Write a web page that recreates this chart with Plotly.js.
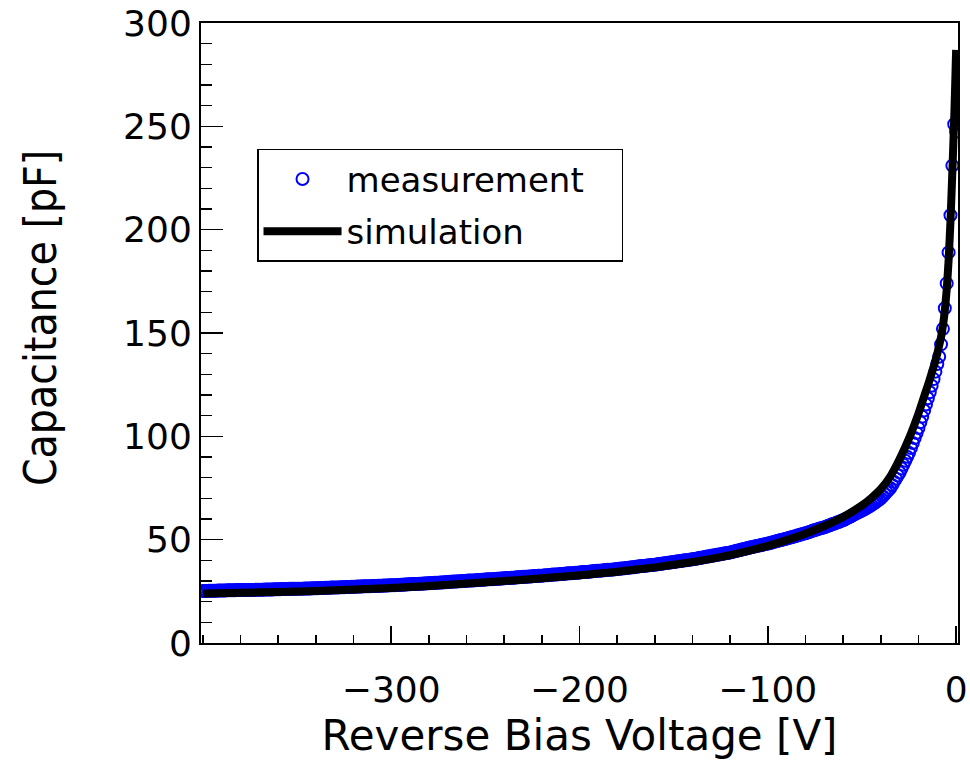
<!DOCTYPE html>
<html><head><meta charset="utf-8">
<script src="https://cdn.plot.ly/plotly-3.0.1.min.js"></script>
<style>html,body{margin:0;padding:0;background:#fff}#chart{width:970px;height:760px}</style>
</head><body><div id="chart"></div>
<script>
// Measurement: reverse bias voltage [V] and capacitance [pF], 1 V steps
const measV = [
-400,-399,-398,-397,-396,-395,-394,-393,-392,-391,
-390,-389,-388,-387,-386,-385,-384,-383,-382,-381,
-380,-379,-378,-377,-376,-375,-374,-373,-372,-371,
-370,-369,-368,-367,-366,-365,-364,-363,-362,-361,
-360,-359,-358,-357,-356,-355,-354,-353,-352,-351,
-350,-349,-348,-347,-346,-345,-344,-343,-342,-341,
-340,-339,-338,-337,-336,-335,-334,-333,-332,-331,
-330,-329,-328,-327,-326,-325,-324,-323,-322,-321,
-320,-319,-318,-317,-316,-315,-314,-313,-312,-311,
-310,-309,-308,-307,-306,-305,-304,-303,-302,-301,
-300,-299,-298,-297,-296,-295,-294,-293,-292,-291,
-290,-289,-288,-287,-286,-285,-284,-283,-282,-281,
-280,-279,-278,-277,-276,-275,-274,-273,-272,-271,
-270,-269,-268,-267,-266,-265,-264,-263,-262,-261,
-260,-259,-258,-257,-256,-255,-254,-253,-252,-251,
-250,-249,-248,-247,-246,-245,-244,-243,-242,-241,
-240,-239,-238,-237,-236,-235,-234,-233,-232,-231,
-230,-229,-228,-227,-226,-225,-224,-223,-222,-221,
-220,-219,-218,-217,-216,-215,-214,-213,-212,-211,
-210,-209,-208,-207,-206,-205,-204,-203,-202,-201,
-200,-199,-198,-197,-196,-195,-194,-193,-192,-191,
-190,-189,-188,-187,-186,-185,-184,-183,-182,-181,
-180,-179,-178,-177,-176,-175,-174,-173,-172,-171,
-170,-169,-168,-167,-166,-165,-164,-163,-162,-161,
-160,-159,-158,-157,-156,-155,-154,-153,-152,-151,
-150,-149,-148,-147,-146,-145,-144,-143,-142,-141,
-140,-139,-138,-137,-136,-135,-134,-133,-132,-131,
-130,-129,-128,-127,-126,-125,-124,-123,-122,-121,
-120,-119,-118,-117,-116,-115,-114,-113,-112,-111,
-110,-109,-108,-107,-106,-105,-104,-103,-102,-101,
-100,-99,-98,-97,-96,-95,-94,-93,-92,-91,
-90,-89,-88,-87,-86,-85,-84,-83,-82,-81,
-80,-79,-78,-77,-76,-75,-74,-73,-72,-71,
-70,-69,-68,-67,-66,-65,-64,-63,-62,-61,
-60,-59,-58,-57,-56,-55,-54,-53,-52,-51,
-50,-49,-48,-47,-46,-45,-44,-43,-42,-41,
-40,-39,-38,-37,-36,-35,-34,-33,-32,-31,
-30,-29,-28,-27,-26,-25,-24,-23,-22,-21,
-20,-19,-18,-17,-16,-15,-14,-13,-12,-11,
-10,-9,-8,-7,-6,-5,-4,-3,-2,-1,0
];
const measC = [
25.2,25.2,25.2,25.3,25.3,25.3,25.3,25.3,25.4,25.4,
25.4,25.4,25.4,25.5,25.5,25.5,25.5,25.5,25.6,25.6,
25.6,25.6,25.6,25.7,25.7,25.7,25.7,25.7,25.8,25.8,
25.8,25.8,25.8,25.9,25.9,25.9,25.9,25.9,26.0,26.0,
26.0,26.0,26.1,26.1,26.1,26.1,26.2,26.2,26.2,26.2,
26.3,26.3,26.3,26.3,26.4,26.4,26.4,26.4,26.5,26.5,
26.5,26.5,26.6,26.6,26.6,26.7,26.7,26.7,26.8,26.8,
26.9,26.9,26.9,27.0,27.0,27.0,27.1,27.1,27.1,27.2,
27.2,27.2,27.3,27.3,27.3,27.4,27.4,27.4,27.5,27.5,
27.6,27.6,27.6,27.7,27.7,27.7,27.8,27.8,27.8,27.9,
27.9,28.0,28.0,28.1,28.1,28.2,28.2,28.3,28.3,28.4,
28.4,28.5,28.5,28.6,28.6,28.7,28.7,28.8,28.8,28.9,
28.9,29.0,29.0,29.1,29.1,29.2,29.3,29.3,29.4,29.4,
29.5,29.6,29.6,29.7,29.7,29.8,29.9,29.9,30.0,30.0,
30.1,30.2,30.2,30.3,30.3,30.4,30.5,30.5,30.6,30.6,
30.7,30.8,30.8,30.9,30.9,31.0,31.1,31.1,31.2,31.2,
31.3,31.4,31.4,31.5,31.6,31.6,31.7,31.8,31.8,31.9,
32.0,32.0,32.1,32.2,32.2,32.3,32.4,32.4,32.5,32.5,
32.6,32.7,32.8,32.8,32.9,33.0,33.1,33.1,33.2,33.3,
33.4,33.4,33.5,33.6,33.7,33.7,33.8,33.9,34.0,34.0,
34.1,34.2,34.3,34.4,34.4,34.5,34.6,34.7,34.8,34.9,
35.0,35.0,35.1,35.2,35.3,35.4,35.5,35.5,35.6,35.7,
35.8,35.9,36.0,36.1,36.2,36.3,36.4,36.5,36.6,36.7,
36.9,37.0,37.1,37.2,37.3,37.4,37.5,37.6,37.7,37.8,
37.9,38.0,38.2,38.3,38.4,38.6,38.7,38.8,38.9,39.1,
39.2,39.3,39.5,39.6,39.7,39.9,40.0,40.1,40.2,40.4,
40.5,40.7,40.8,41.0,41.2,41.3,41.5,41.7,41.8,42.0,
42.2,42.3,42.5,42.7,42.8,43.0,43.2,43.3,43.5,43.6,
43.8,44.0,44.3,44.5,44.7,44.9,45.2,45.4,45.6,45.8,
46.1,46.3,46.5,46.7,46.9,47.1,47.3,47.5,47.7,47.9,
48.1,48.3,48.6,48.8,49.1,49.3,49.6,49.8,50.0,50.3,
50.5,50.8,51.0,51.3,51.5,51.8,52.1,52.3,52.6,52.9,
53.1,53.4,53.7,54.0,54.4,54.6,54.9,55.2,55.5,55.7,
56.0,56.3,56.7,57.0,57.4,57.7,58.0,58.4,58.7,59.1,
59.4,59.9,60.3,60.8,61.2,61.8,62.3,62.7,63.2,63.6,
64.1,64.6,65.1,65.7,66.2,66.7,67.4,68.0,68.7,69.3,
70.0,71.0,72.0,73.0,74.0,75.0,76.5,78.0,79.5,81.0,
82.5,84.4,86.3,88.2,90.1,92.0,94.4,96.8,99.2,101.6,
104.0,106.8,109.5,112.5,115.4,118.4,121.3,124.5,127.7,131.3,
135.0,138.5,144.5,152.0,162.0,174.0,189.0,207.0,231.0,251.0,247.5
];
// Simulation
const simV = [-400,-380,-360,-340,-320,-300,-280,-260,-240,-220,-200,-180,-160,-140,-120,-100,
  -90,-80,-70,-60,-50,-45,-40,-35,-30,-25,-20,-18,-16,-14,-12,-10,-9,-8,-7,-6,-5,-4,-3,-2,-1,-0.5,0];
const simC = [23.9,24.3,24.7,25.2,25.9,26.6,27.6,28.8,30.0,31.3,32.8,34.5,36.6,39.2,42.5,47.0,
  49.8,52.9,56.6,61.0,66.6,70.2,74.5,80.5,89.0,99.0,111.0,116.5,122.0,127.5,133.5,140.0,144.0,148.0,153.5,161.0,171.0,185.0,204.0,228.0,254.0,270.0,287.0];

const seriesNames = ['measurement', 'simulation'];
const xTickVals = [-300, -200, -100, 0];
const xTitle = 'Reverse Bias Voltage [V]';
const yTitle = 'Capacitance [pF]';

const traces = [
  {x: measV, y: measC, type: 'scatter', mode: 'markers', name: seriesNames[0] + '\u00a0\u00a0\u00a0',
   marker: {symbol: 'circle-open', size: 12, color: '#0000ff', line: {color: '#0000ff', width: 2}},
   legendgroup: 'a'},
  {x: simV, y: simC, type: 'scatter', mode: 'lines', name: seriesNames[1],
   line: {color: '#000000', width: 8, shape: 'spline', smoothing: 0.5},
   legendgroup: 'b'}
];

const tickFont = {family: 'DejaVu Sans', size: 36, color: '#000'};
const layout = {
  width: 970, height: 760,
  margin: {l: 201, r: 12, t: 23, b: 117},
  paper_bgcolor: '#fff', plot_bgcolor: '#fff',
  showlegend: true,
  legend: {x: 0.074, y: 0.797, xanchor: 'left', yanchor: 'top',
    bgcolor: '#fff', bordercolor: '#000', borderwidth: 1.5,
    font: {family: 'DejaVu Sans', size: 34, color: '#000'},
    itemwidth: 78, tracegroupgap: 5, traceorder: 'grouped'},
  xaxis: {
    range: [-401, 1], tickmode: 'array', tickvals: xTickVals,
    ticks: 'inside', ticklen: 17, tickwidth: 1.5, tickcolor: '#000',
    showline: true, linecolor: '#000', linewidth: 2, mirror: true,
    showgrid: false, zeroline: false, tickfont: tickFont, ticklabelstandoff: 14,
    minor: {tickmode: 'linear', tick0: 0, dtick: 20, ticks: 'inside', ticklen: 8, tickwidth: 1.5, tickcolor: '#000', showgrid: false},
    title: {text: xTitle, font: {family: 'DejaVu Sans', size: 42, color: '#000'}, standoff: 24}
  },
  yaxis: {
    range: [0, 300], tickmode: 'linear', tick0: 0, dtick: 50,
    ticks: 'inside', ticklen: 22, tickwidth: 1.5, tickcolor: '#000',
    showline: true, linecolor: '#000', linewidth: 2, mirror: true,
    showgrid: false, zeroline: false, tickfont: tickFont, ticklabelstandoff: 0,
    minor: {tickmode: 'linear', tick0: 0, dtick: 10, ticks: 'inside', ticklen: 11, tickwidth: 1.5, tickcolor: '#000', showgrid: false}
  },
  annotations: [{
    text: yTitle, xref: 'paper', yref: 'paper', x: -0.2127, y: 0.524,
    xanchor: 'center', yanchor: 'middle', textangle: -90, showarrow: false,
    font: {family: 'Liberation Sans Narrow, DejaVu Sans Condensed, Liberation Sans', size: 44, color: '#000'}
  }]
};
Plotly.newPlot('chart', traces, layout, {staticPlot: true});
</script>
</body></html>
